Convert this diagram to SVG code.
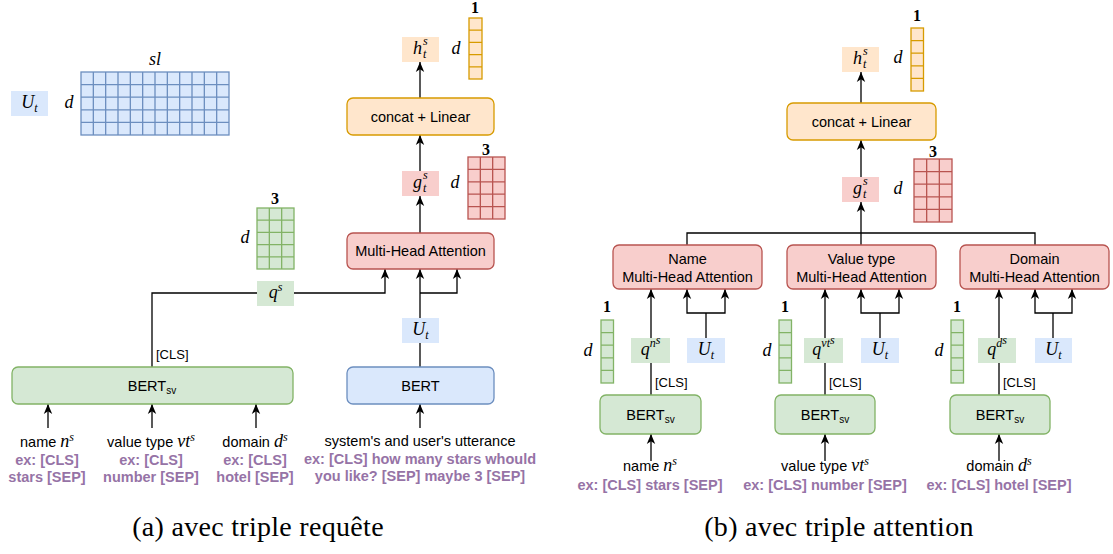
<svg xmlns="http://www.w3.org/2000/svg" width="1113" height="554" viewBox="0 0 1113 554">
<defs>
<marker id="ah" viewBox="0 0 10 10" markerWidth="10" markerHeight="10" refX="10" refY="5" orient="auto" markerUnits="userSpaceOnUse"><path d="M0,0.8 L10,5 L0,9.2 L2.8,5 Z" fill="#000"/></marker>
</defs>
<style>
.blue{fill:#dae8fc;stroke:#6c8ebf;stroke-width:1.3}
.green{fill:#d5e8d4;stroke:#82b366;stroke-width:1.3}
.red{fill:#f8cecc;stroke:#b85450;stroke-width:1.3}
.orange{fill:#ffe6cc;stroke:#d79b00;stroke-width:1.3}
.lblue{fill:#dae8fc}
.lgreen{fill:#d5e8d4}
.lred{fill:#f8cecc}
.lorange{fill:#ffe6cc}
.gb{fill:none;stroke:#6c8ebf;stroke-width:1.3}
.gg{fill:none;stroke:#82b366;stroke-width:1.3}
.gr{fill:none;stroke:#b85450;stroke-width:1.3}
.go{fill:none;stroke:#d79b00;stroke-width:1.3}
.wire{fill:none;stroke:#000;stroke-width:1.3}
.arr{marker-end:url(#ah)}
.t{font-family:"Liberation Sans",Arial,sans-serif;font-size:14.5px;fill:#000}
.cls{font-family:"Liberation Sans",Arial,sans-serif;font-size:13px;fill:#000}
.ex{font-family:"Liberation Sans",Arial,sans-serif;font-size:14.5px;font-weight:bold;fill:#9673a6}
.m{font-family:"Liberation Serif","Times New Roman",serif;font-style:italic;font-size:18px;fill:#000}
.ms{font-family:"Liberation Serif","Times New Roman",serif;font-style:italic;font-size:12px;fill:#000}
.num{font-family:"Liberation Serif","Times New Roman",serif;font-weight:bold;font-size:16px;fill:#000}
.cap{font-family:"Liberation Serif","Times New Roman",serif;font-size:28px;letter-spacing:0.3px;fill:#000}
</style>
<rect width="1113" height="554" fill="#fff"/>

<g id="connectors">
  <!-- left panel -->
  <path class="wire arr" d="M420,171 V135"/>
  <path class="wire arr" d="M420,98 V62"/>
  <path class="wire arr" d="M420,233 V196"/>
  <path class="wire arr" d="M152,367 V293 H385 V269"/>
  <path class="wire arr" d="M420,367 V269"/>
  <path class="wire arr" d="M420,293 H457 V269"/>
  <path class="wire arr" d="M48,428 V404"/>
  <path class="wire arr" d="M152,428 V404"/>
  <path class="wire arr" d="M256,428 V404"/>
  <path class="wire arr" d="M420,428 V404"/>
  <!-- right panel -->
  <path class="wire arr" d="M861,245 V202"/>
  <path class="wire arr" d="M861,177 V140"/>
  <path class="wire arr" d="M861,103 V72"/>
  <path class="wire" d="M687,245 V233 H1035 V245"/>
  <path class="wire arr" d="M651,395 V289"/>
  <path class="wire" d="M706,338 V313"/>
  <path class="wire arr" d="M706,313 H687 V289"/>
  <path class="wire arr" d="M706,313 H725 V289"/>
  <path class="wire arr" d="M825,395 V289"/>
  <path class="wire" d="M880,338 V313"/>
  <path class="wire arr" d="M880,313 H861 V289"/>
  <path class="wire arr" d="M880,313 H899 V289"/>
  <path class="wire arr" d="M999,395 V289"/>
  <path class="wire" d="M1053,338 V313"/>
  <path class="wire arr" d="M1053,313 H1035 V289"/>
  <path class="wire arr" d="M1053,313 H1072 V289"/>
  <path class="wire arr" d="M651,461 V434"/>
  <path class="wire arr" d="M825,461 V434"/>
  <path class="wire arr" d="M999,461 V434"/>
</g>

<!-- ===== Left panel ===== -->
<g id="ut-legend">
  <rect class="lblue" x="11" y="91" width="37" height="25"/>
  <text class="m" x="29.5" y="107.5" text-anchor="middle">U<tspan class="ms" dy="4">t</tspan></text>
</g>
<g id="ut-matrix">
  <text class="m" x="69" y="108" text-anchor="middle">d</text>
  <text class="m" x="155" y="65" text-anchor="middle">sl</text>
  <rect class="blue" x="81" y="72" width="148" height="63"/>
  <path class="gb" d="M93.33,72V135M105.67,72V135M118,72V135M130.33,72V135M142.67,72V135M155,72V135M167.33,72V135M179.67,72V135M192,72V135M204.33,72V135M216.67,72V135M81,84.6H229M81,97.2H229M81,109.8H229M81,122.4H229"/>
</g>
<g id="qs-matrix">
  <text class="num" x="275" y="204" text-anchor="middle">3</text>
  <text class="m" x="245" y="243" text-anchor="middle">d</text>
  <rect class="green" x="257" y="208" width="37" height="61"/>
  <path class="gg" d="M269.33,208V269M281.67,208V269M257,220.2H294M257,232.4H294M257,244.6H294M257,256.8H294"/>
</g>
<g id="gs-matrix-a">
  <text class="num" x="486" y="155" text-anchor="middle">3</text>
  <text class="m" x="455" y="188" text-anchor="middle">d</text>
  <rect class="red" x="468" y="157" width="37" height="62"/>
  <path class="gr" d="M480.33,157V219M492.67,157V219M468,169.4H505M468,181.8H505M468,194.2H505M468,206.6H505"/>
</g>
<g id="hs-vector-a">
  <text class="num" x="475" y="13" text-anchor="middle">1</text>
  <text class="m" x="456" y="54" text-anchor="middle">d</text>
  <rect class="orange" x="469" y="18" width="13" height="61"/>
  <path class="go" d="M469,30.2H482M469,42.4H482M469,54.6H482M469,66.8H482"/>
</g>
<g id="hs-a">
  <rect class="lorange" x="402" y="37" width="37" height="25"/>
  <text class="m" x="413" y="54">h</text>
  <text class="ms" x="423" y="45">s</text>
  <text class="ms" x="423" y="57.5">t</text>
</g>
<g id="concat-a">
  <rect class="orange" x="347" y="98" width="147" height="37" rx="6"/>
  <text class="t" x="420.5" y="121.7" text-anchor="middle">concat + Linear</text>
</g>
<g id="gs-a">
  <rect class="lred" x="402" y="171" width="37" height="25"/>
  <text class="m" x="413" y="188">g</text>
  <text class="ms" x="423" y="178.5">s</text>
  <text class="ms" x="423" y="191.5">t</text>
</g>
<g id="mha-a">
  <rect class="red" x="347" y="233" width="147" height="36" rx="6"/>
  <text class="t" x="420.5" y="256" text-anchor="middle">Multi-Head Attention</text>
</g>
<g id="qs-a">
  <rect class="lgreen" x="257" y="281" width="37" height="25"/>
  <text class="m" x="275.5" y="298" text-anchor="middle">q<tspan class="ms" dy="-7">s</tspan></text>
</g>
<g id="ut-a">
  <rect class="lblue" x="402" y="318" width="37" height="25"/>
  <text class="m" x="420.5" y="334.5" text-anchor="middle">U<tspan class="ms" dy="4">t</tspan></text>
</g>
<g id="bertsv-a">
  <rect class="green" x="12" y="367" width="281" height="37" rx="6"/>
  <text class="t" x="152" y="390.7" text-anchor="middle">BERT<tspan font-size="10" dy="3">sv</tspan></text>
  <text class="cls" x="156" y="359">[CLS]</text>
</g>
<g id="bert-a">
  <rect class="blue" x="347" y="367" width="147" height="37" rx="6"/>
  <text class="t" x="420.5" y="390.7" text-anchor="middle">BERT</text>
</g>
<g id="inputs-a">
  <text class="t" x="47" y="447" text-anchor="middle">name <tspan class="m" font-size="17px">n</tspan><tspan class="ms" font-size="11px" dy="-6">s</tspan></text>
  <text class="ex" x="47" y="464.5" text-anchor="middle">ex: [CLS]</text>
  <text class="ex" x="47" y="482" text-anchor="middle">stars [SEP]</text>
  <text class="t" x="151" y="447" text-anchor="middle">value type <tspan class="m" font-size="17px">vt</tspan><tspan class="ms" font-size="11px" dy="-6">s</tspan></text>
  <text class="ex" x="151" y="464.5" text-anchor="middle">ex: [CLS]</text>
  <text class="ex" x="151" y="482" text-anchor="middle">number [SEP]</text>
  <text class="t" x="255" y="447" text-anchor="middle">domain <tspan class="m" font-size="17px">d</tspan><tspan class="ms" font-size="11px" dy="-6">s</tspan></text>
  <text class="ex" x="255" y="464.5" text-anchor="middle">ex: [CLS]</text>
  <text class="ex" x="255" y="482" text-anchor="middle">hotel [SEP]</text>
  <text class="t" x="420" y="446" text-anchor="middle">system's and user's utterance</text>
  <text class="ex" x="420" y="463.5" text-anchor="middle">ex: [CLS] how many stars whould</text>
  <text class="ex" x="420" y="481" text-anchor="middle">you like? [SEP] maybe 3 [SEP]</text>
</g>

<!-- ===== Right panel ===== -->
<g id="hs-vector-b">
  <text class="num" x="917" y="21" text-anchor="middle">1</text>
  <text class="m" x="898" y="63" text-anchor="middle">d</text>
  <rect class="orange" x="911" y="28" width="12.5" height="63"/>
  <path class="go" d="M911,40.6H923.5M911,53.2H923.5M911,65.8H923.5M911,78.4H923.5"/>
</g>
<g id="hs-b">
  <rect class="lorange" x="842" y="47" width="37" height="25"/>
  <text class="m" x="853" y="64">h</text>
  <text class="ms" x="863" y="54.5">s</text>
  <text class="ms" x="863" y="67.5">t</text>
</g>
<g id="concat-b">
  <rect class="orange" x="787" y="103" width="149" height="37" rx="6"/>
  <text class="t" x="861.5" y="126.7" text-anchor="middle">concat + Linear</text>
</g>
<g id="gs-matrix-b">
  <text class="num" x="933" y="157" text-anchor="middle">3</text>
  <text class="m" x="898" y="194" text-anchor="middle">d</text>
  <rect class="red" x="914" y="159" width="38" height="63"/>
  <path class="gr" d="M926.67,159V222M939.33,159V222M914,171.6H952M914,184.2H952M914,196.8H952M914,209.4H952"/>
</g>
<g id="gs-b">
  <rect class="lred" x="842" y="177" width="37" height="25"/>
  <text class="m" x="853" y="194">g</text>
  <text class="ms" x="863" y="184.5">s</text>
  <text class="ms" x="863" y="197.5">t</text>
</g>
<g id="mha-name">
  <rect class="red" x="613" y="245" width="149" height="44" rx="6"/>
  <text class="t" x="687.5" y="264" text-anchor="middle">Name</text>
  <text class="t" x="687.5" y="282" text-anchor="middle">Multi-Head Attention</text>
</g>
<g id="mha-vt">
  <rect class="red" x="787" y="245" width="149" height="44" rx="6"/>
  <text class="t" x="861.5" y="264" text-anchor="middle">Value type</text>
  <text class="t" x="861.5" y="282" text-anchor="middle">Multi-Head Attention</text>
</g>
<g id="mha-domain">
  <rect class="red" x="960" y="245" width="149" height="44" rx="6"/>
  <text class="t" x="1034.5" y="264" text-anchor="middle">Domain</text>
  <text class="t" x="1034.5" y="282" text-anchor="middle">Multi-Head Attention</text>
</g>
<g id="vec-name">
  <text class="num" x="607" y="312" text-anchor="middle">1</text>
  <text class="m" x="588" y="356" text-anchor="middle">d</text>
  <rect class="green" x="601" y="320" width="12.5" height="63"/>
  <path class="gg" d="M601,332.6H613.5M601,345.2H613.5M601,357.8H613.5M601,370.4H613.5"/>
</g>
<g id="vec-vt">
  <text class="num" x="785" y="312" text-anchor="middle">1</text>
  <text class="m" x="767" y="356" text-anchor="middle">d</text>
  <rect class="green" x="779" y="320" width="12.5" height="63"/>
  <path class="gg" d="M779,332.6H791.5M779,345.2H791.5M779,357.8H791.5M779,370.4H791.5"/>
</g>
<g id="vec-domain">
  <text class="num" x="957" y="312" text-anchor="middle">1</text>
  <text class="m" x="939" y="356" text-anchor="middle">d</text>
  <rect class="green" x="951" y="320" width="12.5" height="63"/>
  <path class="gg" d="M951,332.6H963.5M951,345.2H963.5M951,357.8H963.5M951,370.4H963.5"/>
</g>
<g id="q-name">
  <rect class="lgreen" x="631" y="338" width="39" height="25"/>
  <text class="m" x="650.5" y="355" text-anchor="middle">q<tspan class="ms" dy="-8">n</tspan><tspan class="ms" font-size="9px" dy="-3">s</tspan></text>
</g>
<g id="ut-name">
  <rect class="lblue" x="687" y="338" width="38" height="25"/>
  <text class="m" x="706" y="354.5" text-anchor="middle">U<tspan class="ms" dy="4">t</tspan></text>
</g>
<g id="q-vt">
  <rect class="lgreen" x="804" y="338" width="39" height="25"/>
  <text class="m" x="823.5" y="355" text-anchor="middle">q<tspan class="ms" dy="-8">vt</tspan><tspan class="ms" font-size="9px" dy="-3">s</tspan></text>
</g>
<g id="ut-vt">
  <rect class="lblue" x="861" y="338" width="38" height="25"/>
  <text class="m" x="880" y="354.5" text-anchor="middle">U<tspan class="ms" dy="4">t</tspan></text>
</g>
<g id="q-domain">
  <rect class="lgreen" x="978" y="338" width="38" height="25"/>
  <text class="m" x="997" y="355" text-anchor="middle">q<tspan class="ms" dy="-8">d</tspan><tspan class="ms" font-size="9px" dy="-3">s</tspan></text>
</g>
<g id="ut-domain">
  <rect class="lblue" x="1035" y="338" width="37" height="25"/>
  <text class="m" x="1053.5" y="354.5" text-anchor="middle">U<tspan class="ms" dy="4">t</tspan></text>
</g>
<g id="bertsv-name">
  <rect class="green" x="600" y="395" width="101" height="39" rx="6"/>
  <text class="t" x="650.5" y="419.7" text-anchor="middle">BERT<tspan font-size="10" dy="3">sv</tspan></text>
  <text class="cls" x="655" y="387">[CLS]</text>
</g>
<g id="bertsv-vt">
  <rect class="green" x="775" y="395" width="100" height="39" rx="6"/>
  <text class="t" x="825" y="419.7" text-anchor="middle">BERT<tspan font-size="10" dy="3">sv</tspan></text>
  <text class="cls" x="829" y="387">[CLS]</text>
</g>
<g id="bertsv-domain">
  <rect class="green" x="950" y="395" width="100" height="39" rx="6"/>
  <text class="t" x="1000" y="419.7" text-anchor="middle">BERT<tspan font-size="10" dy="3">sv</tspan></text>
  <text class="cls" x="1003" y="387">[CLS]</text>
</g>
<g id="inputs-b">
  <text class="t" x="650" y="471" text-anchor="middle">name <tspan class="m" font-size="17px">n</tspan><tspan class="ms" font-size="11px" dy="-6">s</tspan></text>
  <text class="ex" x="650" y="490" text-anchor="middle">ex: [CLS] stars [SEP]</text>
  <text class="t" x="825" y="471" text-anchor="middle">value type <tspan class="m" font-size="17px">vt</tspan><tspan class="ms" font-size="11px" dy="-6">s</tspan></text>
  <text class="ex" x="825" y="490" text-anchor="middle">ex: [CLS] number [SEP]</text>
  <text class="t" x="999" y="471" text-anchor="middle">domain <tspan class="m" font-size="17px">d</tspan><tspan class="ms" font-size="11px" dy="-6">s</tspan></text>
  <text class="ex" x="999" y="490" text-anchor="middle">ex: [CLS] hotel [SEP]</text>
</g>

<g id="captions">
  <text class="cap" x="258" y="536" text-anchor="middle">(a) avec triple requête</text>
  <text class="cap" x="839" y="536" text-anchor="middle">(b) avec triple attention</text>
</g>
</svg>
